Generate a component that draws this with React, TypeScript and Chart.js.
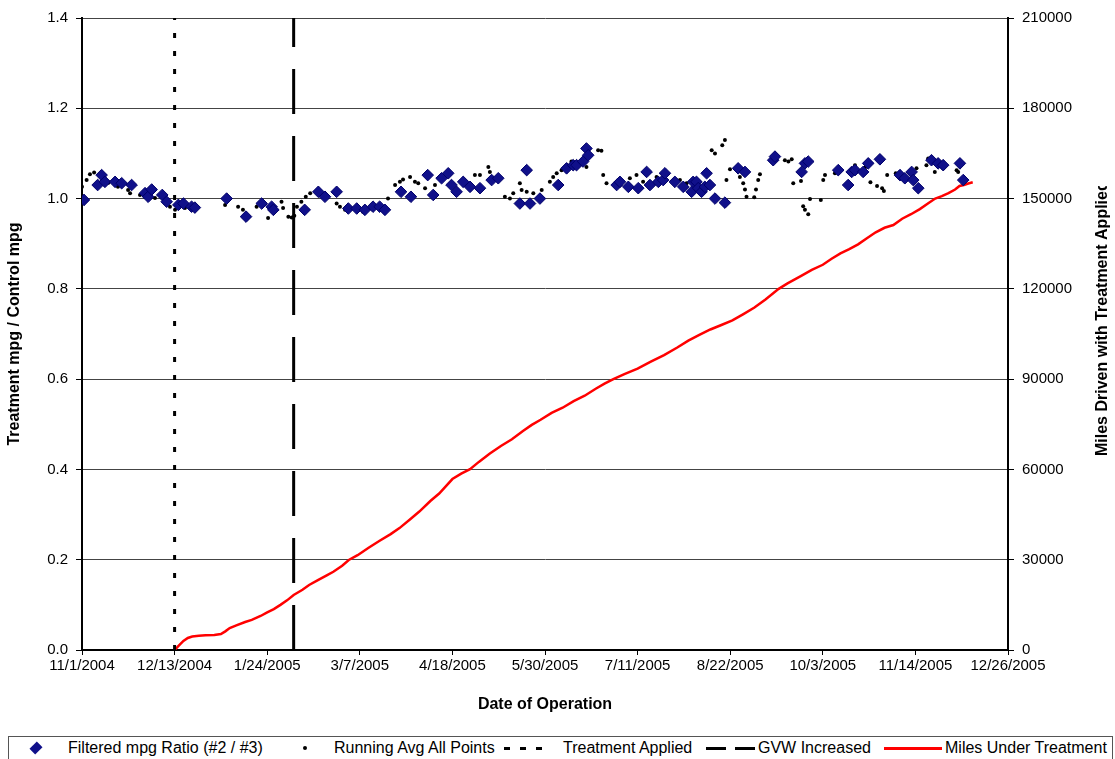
import React, { useEffect, useRef } from "react";
import { Chart, registerables } from "chart.js";

Chart.register(...registerables);

const FONT = "'Liberation Sans', Arial, Helvetica, sans-serif";

// Day 0 = 11/1/2004
const START = Date.UTC(2004, 10, 1);
const xMin = 0;
const xMax = 420;
const xStep = 42;

const treatmentDay = 42;
const gvwDay = 96;

const filteredDays = [
  0.9, 7.1, 8.9, 10.4, 15, 18, 22.5, 28.6, 30, 31.6, 36.4, 38.4, 43.7, 46, 49.7, 51.2, 65.6, 74.4,
  81.5, 86, 86.8, 101, 107.2, 110.2, 115.5, 120.8, 124.6, 128.3, 132, 135, 137.4, 144.7, 149.2,
  156.8, 159.3, 163.1, 166.1, 167.6, 169.9, 172.9, 176, 180.5, 185.8, 188.8, 198.6, 201.7, 203.2,
  207.7, 216, 219.8, 222.8, 224.3, 227.3, 228.8, 229.6, 242.5, 244, 247.8, 252.3, 256.1, 257.6,
  261.4, 263.6, 264.4, 268.9, 272.7, 276.5, 277.2, 278.7, 279.5, 281, 282.5, 283.3, 284.8, 287.1,
  291.6, 297.6, 300.7, 313.5, 314.3, 326.4, 327.9, 329.4, 343, 347.5, 349.1, 350.6, 354.3, 356.6,
  361.9, 371, 373.2, 376.3, 377, 379.3, 385.3, 388.3, 390.6, 398.2, 399.7,
];
const filteredRatio = [
  0.997, 1.03, 1.052, 1.037, 1.037, 1.034, 1.03, 1.012, 1.004, 1.02, 1.008, 0.993, 0.986, 0.989,
  0.982, 0.98, 1.0, 0.96, 0.989, 0.982, 0.975, 0.975, 1.015, 1.004, 1.015, 0.978, 0.978, 0.975,
  0.982, 0.982, 0.975, 1.015, 1.004, 1.052, 1.008, 1.045, 1.056, 1.03, 1.015, 1.037, 1.026, 1.023,
  1.041, 1.045, 0.989, 1.063, 0.989, 1.0, 1.03, 1.067, 1.074, 1.074, 1.082, 1.111, 1.096, 1.03,
  1.037, 1.026, 1.023, 1.059, 1.03, 1.037, 1.041, 1.056, 1.037, 1.026, 1.015, 1.037, 1.037, 1.023,
  1.015, 1.026, 1.056, 1.03, 1.0, 0.991, 1.067, 1.059, 1.085, 1.093, 1.059, 1.078, 1.082, 1.063,
  1.03, 1.059, 1.063, 1.059, 1.078, 1.087, 1.052, 1.045, 1.059, 1.041, 1.023, 1.085, 1.078, 1.074,
  1.078, 1.041,
];

const runningDays = [
  0, 2.1, 3.6, 5.5, 12, 16.3, 20.9, 21.8, 26.3, 33.1, 37.6, 39.9, 42.2, 46.7, 51.2, 64.9, 70.8, 73,
  79.2, 84.4, 90.5, 91.2, 93.6, 95.1, 96.3, 97.5, 99.5, 101.5, 103.5, 110.2, 115.5, 117, 119.3,
  127.4, 135, 138.8, 142, 144.2, 145.6, 148.8, 151, 152.5, 155.6, 160.1, 178.2, 180.5, 184.3, 185,
  191.8, 194.1, 195.6, 198.6, 199.4, 201.7, 204.7, 208.5, 212.2, 213.7, 215.3, 217.5, 222, 228.8,
  234.1, 235.6, 236.4, 237.9, 248.5, 251.5, 254.5, 260.6, 271.2, 274.2, 285.6, 287.1, 290.4, 291.6,
  292.3, 293.9, 298.4, 299.9, 300.7, 301.4, 304.9, 305.7, 306.7, 307.5, 312.8, 318.8, 320.4, 321.9,
  322.6, 326.1, 327.1, 327.9, 329.4, 330.2, 335.1, 336.2, 337, 341.5, 350.6, 355.4, 357.6, 360.6,
  362.9, 363.7, 365.2, 369.1, 378.5, 383, 383.8, 386.8, 390.6, 396.7, 397.4,
];
const runningAvg = [
  1.026, 1.041, 1.054, 1.058, 1.035, 1.026, 1.019, 1.012, 1.008, 1.001, 0.99, 0.982, 0.975, 0.979,
  0.979, 0.986, 0.982, 0.975, 0.982, 0.957, 0.993, 0.979, 0.96, 0.958, 0.962, 0.982, 0.993, 1.004,
  1.012, 1.008, 0.989, 0.982, 0.975, 0.971, 0.978, 1.0, 1.03, 1.037, 1.042, 1.048, 1.037, 1.034,
  1.023, 1.03, 1.052, 1.052, 1.07, 1.059, 1.004, 1.0, 1.012, 1.034, 1.019, 1.015, 1.012, 1.019,
  1.037, 1.048, 1.056, 1.063, 1.082, 1.07, 1.107, 1.106, 1.052, 1.034, 1.045, 1.052, 1.037, 1.048,
  1.041, 1.034, 1.107, 1.1, 1.118, 1.13, 1.041, 1.065, 1.048, 1.034, 1.02, 1.004, 1.003, 1.02,
  1.041, 1.054, 1.082, 1.085, 1.082, 1.087, 1.034, 1.039, 0.983, 0.975, 0.965, 0.999, 0.997, 1.041,
  1.052, 1.056, 1.074, 1.07, 1.036, 1.028, 1.023, 1.017, 1.052, 1.056, 1.067, 1.074, 1.089, 1.059,
  1.067, 1.063, 1.059,
];

const milesDays = [
  42, 44, 46, 48, 50, 53, 56, 60, 63, 65, 67, 70, 74, 77, 81, 84, 87, 90, 93, 96, 100, 103, 107,
  111, 114, 118, 121, 125, 130, 135, 140, 144, 149, 153, 158, 162, 168, 172, 176, 180, 185, 190,
  195, 200, 204, 208, 213, 218, 223, 228, 233, 237, 241, 246, 252, 258, 264, 270, 275, 280, 285,
  290, 295, 300, 305, 310, 316, 320, 326, 331, 336, 340, 344, 348, 352, 356, 360, 364, 368, 372,
  376, 380, 384, 387, 390, 393, 396, 398, 400, 402, 404,
];
const milesDriven = [
  0, 1500, 3000, 4000, 4500, 4700, 4900, 5000, 5300, 6200, 7300, 8200, 9300, 10000, 11300, 12500,
  13600, 15000, 16500, 18300, 20000, 21600, 23200, 24800, 26000, 28000, 29900, 31500, 34000, 36300,
  38500, 40500, 43500, 46000, 49500, 52000, 56800, 58600, 60100, 62500, 65300, 67800, 70000, 72800,
  74800, 76500, 78800, 80500, 82700, 84500, 86800, 88500, 90000, 91700, 93500, 95800, 98000,
  100500, 102800, 104700, 106500, 108000, 109500, 111600, 113800, 116500, 120000, 121800, 124200,
  126300, 128000, 130000, 131800, 133200, 134800, 136800, 138800, 140300, 141200, 143300, 144800,
  146500, 148500, 150000, 150800, 151800, 153000, 154200, 154500, 155000, 155400,
];

const yLeftMin = 0;
const yLeftMax = 1.4;
const yLeftStep = 0.2;
const yRightMin = 0;
const yRightMax = 210000;
const yRightStep = 30000;

const LEFT_TITLE = "Treatment mpg / Control mpg";
const RIGHT_TITLE = "Miles Driven with Treatment Applied";
const X_TITLE = "Date of Operation";

function fmtDate(d: number): string {
  const dt = new Date(START + Math.round(d) * 86400000);
  return `${dt.getUTCMonth() + 1}/${dt.getUTCDate()}/${dt.getUTCFullYear()}`;
}

export default function App() {
  const ref = useRef<HTMLCanvasElement>(null);

  useEffect(() => {
    const canvas = ref.current!;
    const tickFont = { family: FONT, size: 15 };
    const titleFont = { family: FONT, size: 16, weight: "bold" as const };

    const rightTitle = {
      id: "rightTitle",
      afterDraw(chart: any) {
        const ctx = chart.ctx as CanvasRenderingContext2D;
        ctx.save();
        ctx.beginPath();
        ctx.rect(1085, 186, 30, 330);
        ctx.clip();
        ctx.translate(1103, 456);
        ctx.rotate(-Math.PI / 2);
        ctx.font = `bold 16px ${FONT}`;
        ctx.fillStyle = "#000";
        ctx.textAlign = "left";
        ctx.textBaseline = "middle";
        ctx.fillText(RIGHT_TITLE, 0, 0);
        ctx.restore();
      },
    };

    const chart = new Chart(canvas, {
      type: "scatter",
      data: {
        datasets: [
          {
            label: "Filtered mpg Ratio (#2 / #3)",
            data: filteredDays.map((d, i) => ({ x: d, y: filteredRatio[i] })),
            pointStyle: "rectRot",
            pointRadius: 5.8,
            backgroundColor: "#10108a",
            borderColor: "#00006a",
            borderWidth: 1,
            yAxisID: "y",
          },
          {
            label: "Running Avg All Points",
            data: runningDays.map((d, i) => ({ x: d, y: runningAvg[i] })),
            pointStyle: "circle",
            pointRadius: 2,
            backgroundColor: "#000",
            borderWidth: 0,
            yAxisID: "y",
          },
          {
            label: "Treatment Applied",
            data: [
              { x: treatmentDay, y: yLeftMin },
              { x: treatmentDay, y: yLeftMax },
            ],
            showLine: true,
            borderColor: "#000",
            borderWidth: 3,
            borderDash: [5, 13],
            pointRadius: 0,
            yAxisID: "y",
          },
          {
            label: "GVW Increased",
            data: [
              { x: gvwDay, y: yLeftMin },
              { x: gvwDay, y: yLeftMax },
            ],
            showLine: true,
            borderColor: "#000",
            borderWidth: 3,
            borderDash: [45, 22],
            pointRadius: 0,
            yAxisID: "y",
          },
          {
            label: "Miles Under Treatment",
            data: milesDays.map((d, i) => ({ x: d, y: milesDriven[i] })),
            showLine: true,
            borderColor: "#ff0000",
            borderWidth: 2.5,
            pointRadius: 0,
            tension: 0,
            yAxisID: "y1",
          },
        ],
      },
      options: {
        responsive: false,
        animation: false,
        devicePixelRatio: 1,
        layout: { padding: { top: 18, bottom: 18, left: 0, right: 0 } },
        plugins: {
          legend: { display: false },
          tooltip: { enabled: false },
        },
        scales: {
          x: {
            type: "linear",
            position: "bottom",
            min: xMin,
            max: xMax,
            afterFit: (s: any) => {
              s.height = 67;
            },
            ticks: {
              stepSize: xStep,
              autoSkip: false,
              maxRotation: 0,
              callback: (v: any) => fmtDate(Number(v)),
              font: tickFont,
              color: "#000",
              padding: 2,
            },
            grid: { drawOnChartArea: false, drawTicks: true, tickLength: 5, tickColor: "#000" },
            border: { color: "#000", width: 2 },
            title: {
              display: true,
              text: X_TITLE,
              font: titleFont,
              color: "#000",
              padding: { top: 0, bottom: 3 },
            },
          },
          y: {
            position: "left",
            min: yLeftMin,
            max: yLeftMax,
            afterFit: (s: any) => {
              s.width = 82;
            },
            ticks: {
              stepSize: yLeftStep,
              callback: (v: any) => Number(v).toFixed(1),
              font: tickFont,
              color: "#000",
              padding: 8,
            },
            grid: { color: "#444", lineWidth: 1, tickLength: 6, tickColor: "#000" },
            border: { color: "#000", width: 2 },
            title: {
              display: true,
              text: LEFT_TITLE,
              font: titleFont,
              color: "#000",
              padding: { top: 5, bottom: 0 },
            },
          },
          y1: {
            position: "right",
            min: yRightMin,
            max: yRightMax,
            afterFit: (s: any) => {
              s.width = 107;
            },
            ticks: {
              stepSize: yRightStep,
              callback: (v: any) => String(v),
              font: tickFont,
              color: "#000",
              padding: 8,
            },
            grid: { drawOnChartArea: false, tickLength: 6, tickColor: "#000" },
            border: { color: "#000", width: 2 },
          },
        },
      },
      plugins: [rightTitle],
    });
    return () => chart.destroy();
  }, []);

  const textStyle: React.CSSProperties = {
    position: "absolute",
    top: 738,
    height: 20,
    lineHeight: "20px",
    fontSize: 16,
    fontFamily: FONT,
    color: "#000",
    whiteSpace: "nowrap",
  };

  return (
    <div
      style={{
        position: "absolute",
        left: 0,
        top: 0,
        width: 1115,
        height: 759,
        background: "#fff",
        overflow: "hidden",
      }}
    >
      <canvas ref={ref} width={1115} height={735} style={{ display: "block", width: 1115, height: 735 }} />
      <div
        style={{
          position: "absolute",
          left: 8,
          top: 736,
          width: 1105,
          height: 24,
          border: "1px solid #555",
          boxSizing: "border-box",
        }}
      />
      {/* diamond */}
      <div
        style={{
          position: "absolute",
          left: 32,
          top: 744,
          width: 8,
          height: 8,
          background: "#10108a",
          transform: "rotate(45deg) scaleY(1.3)",
        }}
      />
      <div style={{ ...textStyle, left: 68 }}>Filtered mpg Ratio (#2 / #3)</div>
      {/* dot */}
      <div
        style={{
          position: "absolute",
          left: 303,
          top: 746,
          width: 4,
          height: 4,
          borderRadius: 2,
          background: "#000",
        }}
      />
      <div style={{ ...textStyle, left: 334 }}>Running Avg All Points</div>
      {/* dotted */}
      {[504, 520, 536].map((x) => (
        <div key={x} style={{ position: "absolute", left: x, top: 747, width: 6, height: 3, background: "#000" }} />
      ))}
      <div style={{ ...textStyle, left: 563 }}>Treatment Applied</div>
      {/* dashed */}
      {[706, 735].map((x) => (
        <div key={x} style={{ position: "absolute", left: x, top: 747, width: 20, height: 3, background: "#000" }} />
      ))}
      <div style={{ ...textStyle, left: 758 }}>GVW Increased</div>
      <div style={{ position: "absolute", left: 884, top: 747, width: 58, height: 3, background: "#ff0000" }} />
      <div style={{ ...textStyle, left: 945 }}>Miles Under Treatment</div>
    </div>
  );
}
